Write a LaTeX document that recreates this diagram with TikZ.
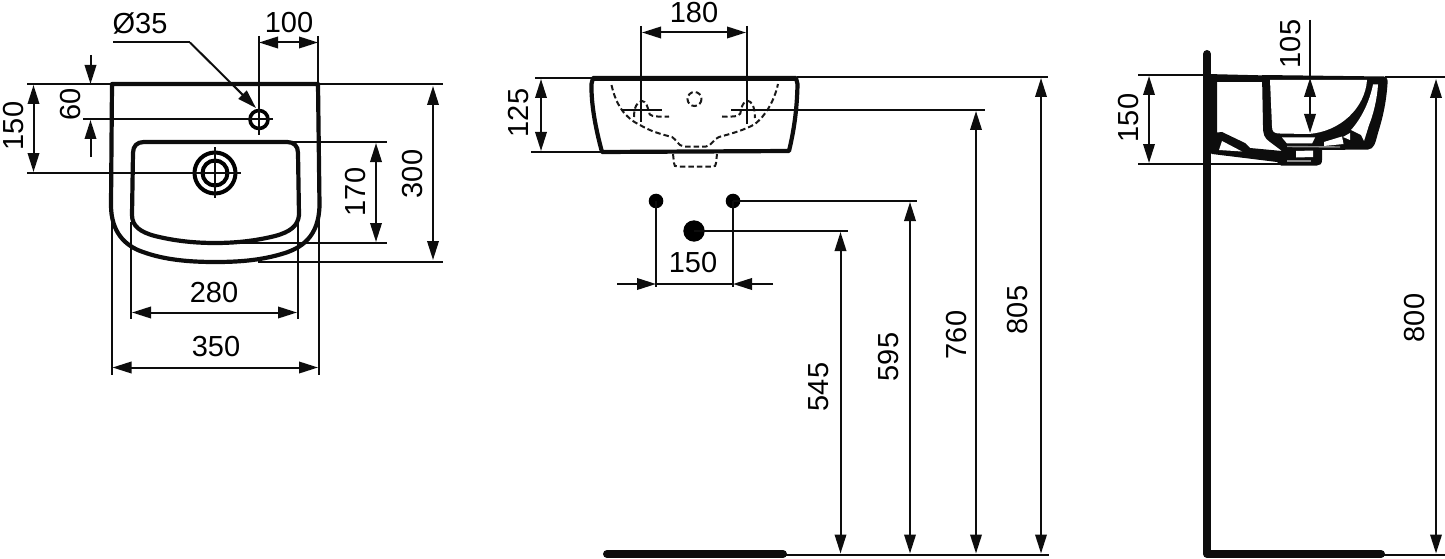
\documentclass[tikz,border=0pt]{standalone}
\usepackage{fontspec}
\setmainfont{Liberation Sans}
\usetikzlibrary{arrows.meta}
\tikzset{
  thinl/.style={line width=2pt,black!95,line cap=butt},
  dimn/.style={thinl,{Triangle[length=19pt,width=11.5pt]}-{Triangle[length=19pt,width=11.5pt]}},
  dimend/.style={thinl,-{Triangle[length=19pt,width=11.5pt]}},
  thick1/.style={line width=4.2pt,black!95,line join=round,line cap=round},
  dash1/.style={line width=2pt,dash pattern=on 5.5pt off 3pt,black!90},
  lab/.style={font=\fontsize{29}{29}\selectfont,inner sep=0pt},
  vlab/.style={lab,rotate=90},
  solid1/.style={fill=black!95,draw=none},
  hole/.style={fill=white,draw=none}
}
\begin{document}
\begin{tikzpicture}[x=1pt,y=-1pt]
\useasboundingbox (0,0) rectangle (1445,559);
% ===== plan view =====
\draw[thick1] (112,84) -- (318,84) -- (319.5,205) .. controls (319,238) and (300,248) .. (285,253) .. controls (260,261) and (235,262) .. (215,262) .. controls (190,262) and (165,260) .. (143,252) .. controls (125,246) and (111,232) .. (111,205) -- cycle;
\draw[thick1] (144,142) -- (287,142) .. controls (294,142) and (298,146) .. (298,153) -- (299,215) .. controls (298,226) and (290,232) .. (275,236) .. controls (255,241) and (235,243) .. (215,243) .. controls (195,243) and (175,241) .. (155,236) .. controls (140,232) and (132,226) .. (132,215) -- (133,153) .. controls (133,146) and (137,142) .. (144,142) -- cycle;
\draw[line width=4pt] (215,173) circle (20.5);
\draw[line width=4pt] (215,173) circle (12.5);
\draw[line width=3.6pt] (259,119.5) circle (9);
\draw[thinl] (215,147) -- (215,198);
\draw[thinl] (27,173) -- (241,173);
\draw[thinl] (83,119.5) -- (273,119.5);
\draw[thinl] (259,36) -- (259,135);
\draw[thinl] (318,36) -- (318,84);
\draw[dimn] (259,42.5) -- (318,42.5);
\node[lab] (t100) at (289,23) {100};
\draw[thinl] (113,42.5) -- (190,42.5);
\draw[dimend] (190,42.5) -- (256,108);
\node[lab] (t35) at (140,23) {Ø35};
\draw[thinl] (27,84) -- (112,84);
\draw[dimend] (90.5,55) -- (90.5,84);
\draw[dimend] (90.5,157) -- (90.5,120);
\draw[dimn] (33.5,85) -- (33.5,172);
\node[vlab] (t60) at (70.5,104) {60};
\node[vlab] (t150a) at (14,126) {150};
\draw[thinl] (318,84.5) -- (443,84.5);
\draw[thinl] (258,262) -- (443,262);
\draw[dimn] (433,86) -- (433,260);
\node[vlab] (t300) at (413,174) {300};
\draw[thinl] (290,142) -- (387,142);
\draw[thinl] (215,243) -- (387,243);
\draw[dimn] (376,143) -- (376,242);
\node[vlab] (t170) at (356,192) {170};
\draw[thinl] (131,222) -- (131,319);
\draw[thinl] (298,222) -- (298,319);
\draw[dimn] (132,312.5) -- (297,312.5);
\node[lab] (t280) at (214,293) {280};
\draw[thinl] (111.5,205) -- (111.5,375);
\draw[thinl] (318.5,205) -- (318.5,375);
\draw[dimn] (112.5,367.5) -- (318,367.5);
\node[lab] (t350) at (216,347) {350};
% ===== front view =====
\draw[thick1] (593,78) -- (796,78) -- (797.5,84) .. controls (797,110) and (794,130) .. (789,151) -- (602,152) .. controls (596,130) and (591,105) .. (591.5,84) -- cycle;
\draw[line width=5.2pt,black!95] (593,78.5) -- (796,78.5);
\draw[dash1] (611.5,85) .. controls (616,105) and (625,118) .. (640,125) .. controls (650,131) and (660,134) .. (672,137) .. controls (676,139) and (678,146) .. (684,146.5) -- (706,146.5) .. controls (712,146) and (713,139) .. (719,137) .. controls (730,134) and (745,130) .. (755,124) .. controls (765,116) and (774,102) .. (778,84);
\draw[dash1] (694.5,99) circle (7);
\draw[dash1] (634,117) .. controls (634,108) and (637,101) .. (642,101) .. controls (646,101) and (648,108) .. (649,112) .. controls (649,116) and (652,117) .. (669,116.5);
\draw[dash1] (722,116.5) .. controls (738,117) and (741,116) .. (741,110) .. controls (742,104) and (745,101) .. (748,101) .. controls (751,101) and (755,106) .. (755,118);
\draw[dash1] (673,154) -- (674,163) .. controls (674,166) and (675,166.5) .. (678,166.5) -- (712,166.5) .. controls (715,166.5) and (716,166) .. (716,163) -- (717,154);
\draw[thinl] (622,110) -- (662,110);
\draw[thinl] (731,110) -- (985,110);
\draw[thinl] (641,26) -- (641,122);
\draw[thinl] (747,26) -- (747,124);
\draw[dimn] (642,32.5) -- (746,32.5);
\node[lab] (t180) at (694,13) {180};
\draw[thinl] (535,78) -- (592,78);
\draw[thinl] (531,152) -- (601,152);
\draw[dimn] (541,79) -- (541,151);
\node[vlab] (t125) at (519,113) {125};
\fill[black] (656,201) circle (7.3) (733,201) circle (7.3) (694,231) circle (10.7);
\draw[thinl] (656,201) -- (656,287);
\draw[thinl] (733,201) -- (733,287);
\draw[thinl] (733,201) -- (917,201);
\draw[thinl] (694,231) -- (848,231);
\draw[thinl] (656,284) -- (733,284);
\draw[dimend] (617,284) -- (656,284);
\draw[dimend] (773,284) -- (733,284);
\node[lab] (t150b) at (693,263) {150};
\draw[line width=8pt,line cap=round,black!95] (607,554) -- (783,554);
\draw[thinl] (783,554.5) -- (1049,554.5);
\draw[thinl] (797,77) -- (1048,77);
\draw[dimn] (1041,78) -- (1041,553.5);
\node[vlab] (t805) at (1018,310) {805};
\draw[dimn] (976,111) -- (976,553.5);
\node[vlab] (t760) at (957,335) {760};
\draw[dimn] (910,202) -- (910,553.5);
\node[vlab] (t595) at (889,357) {595};
\draw[dimn] (840.5,232) -- (840.5,553.5);
\node[vlab] (t545) at (819,387) {545};
% ===== side view =====
\draw[line width=8pt,line cap=round,line join=round,black!95] (1207,54) -- (1207,554) -- (1381,554);
\draw[thinl] (1381,554.5) -- (1445,554.5);
\draw[thinl] (1138,75) -- (1207,75);
\draw[thinl] (1385,77.5) -- (1445,77.5);
\draw[thinl] (1138,164) -- (1283,164);
\draw[dimn] (1149,76) -- (1149,163);
\node[vlab] (t150c) at (1129,118) {150};
% back plate and top band
\fill[solid1] (1207,74) -- (1268,75.5) -- (1268,82) -- (1217,82) -- (1217,134) -- (1207,134) -- cycle;
% bowl silhouette
\fill[solid1] (1262,75) -- (1384,76.5) .. controls (1387,77) and (1388,79) .. (1387.5,84) .. controls (1386,105) and (1382,120) .. (1378,133) .. controls (1375,144) and (1374,149) .. (1368,149.5) -- (1322,150) -- (1322,160) .. controls (1322,164) and (1320,165.5) .. (1317,165.5) -- (1281,165.5) -- (1277,162) -- (1212,154) -- (1207,150) -- (1207,140) -- (1212,133) -- (1222,132) -- (1245,143) -- (1250,148) -- (1282,151) -- (1270,142) .. controls (1264,138) and (1263,134) .. (1263,126) -- cycle;
% bowl interior
\fill[hole] (1270,80) -- (1272,126) .. controls (1272,132) and (1274,133.5) .. (1280,133.5) -- (1308,134) .. controls (1340,132) and (1365,108) .. (1367,80) -- cycle;
% rim wedge
\fill[hole] (1373,84.5) -- (1378,84.5) .. controls (1377,100) and (1373,115) .. (1369,125) -- (1364,141) -- (1361,135) -- (1351,130) .. controls (1362,118) and (1370,100) .. (1373,84.5) -- cycle;
% gaps under the bowl
\fill[hole] (1282,137.5) -- (1315,137.5) -- (1312,143.5) -- (1287,143.5) -- cycle;
\fill[hole] (1324,142) -- (1342,136.5) -- (1343.5,144) -- (1324,146) -- cycle;
\fill[hole] (1219,150) -- (1222,141) -- (1242,151.5) -- cycle;
\fill[hole] (1296,151) -- (1313,150.5) -- (1313,157) -- (1296,157.5) -- cycle;
\fill[hole] (1343,137) -- (1350,133) -- (1350,140) -- cycle;
\draw[line width=1.4pt,black!45] (1287,146.5) -- (1340,147);
\draw[line width=1.4pt,black!45] (1287,161) -- (1311,161);
\draw[thinl] (1310,20) -- (1310,78);
\draw[dimn] (1310,78) -- (1310,133);
\node[vlab] (t105) at (1290,44) {105};
\draw[dimn] (1436,79) -- (1436,553.5);
\node[vlab] (t800) at (1414,318) {800};
\end{tikzpicture}
\end{document}
